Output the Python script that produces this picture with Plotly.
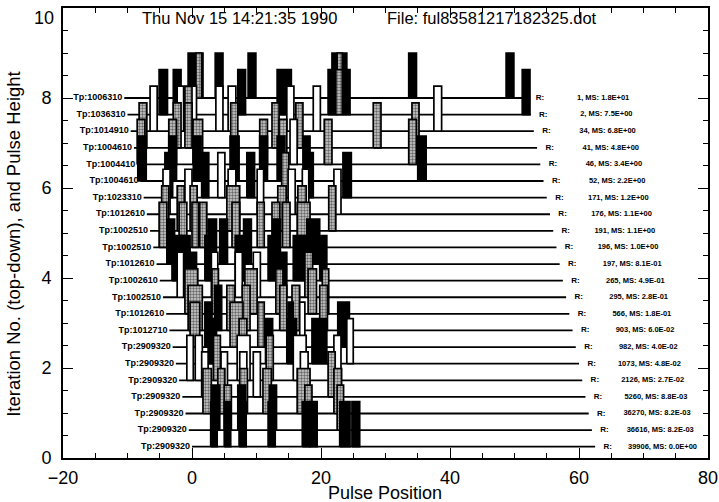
import plotly.graph_objects as go

# ---------------- data ----------------
tp_labels = ["Tp:1006310", "Tp:1036310", "Tp:1014910", "Tp:1004610", "Tp:1004410",
             "Tp:1004610", "Tp:1023310", "Tp:1012610", "Tp:1002510", "Tp:1002510",
             "Tp:1012610", "Tp:1002610", "Tp:1002510", "Tp:1012610", "Tp:1012710",
             "Tp:2909320", "Tp:2909320", "Tp:2909320", "Tp:2909320", "Tp:2909320",
             "Tp:2909320", "Tp:2909320"]
r_counts = [1, 2, 34, 41, 46, 52, 171, 176, 191, 196, 197, 265, 295, 566, 903,
            982, 1073, 2126, 5260, 36270, 36616, 39906]
ms_values = ["1.8E+01", "7.5E+00", "6.8E+00", "4.8E+00", "3.4E+00", "2.2E+00",
             "1.2E+00", "1.1E+00", "1.1E+00", "1.0E+00", "8.1E-01", "4.9E-01",
             "2.8E-01", "1.8E-01", "6.0E-02", "4.0E-02", "4.8E-02", "2.7E-02",
             "8.8E-03", "8.2E-03", "8.2E-03", "0.0E+00"]

# pulse start positions (as drawn), widths and kinds (K black, D dotted, W white), top row first
pulse_x = [
    [-0.6, 0.6, 3.6, 8.7, 21.7, 22.5, 33.6, 48.7],
    [-5.1, -2.9, 7.1, 13.2, 21.1, 22.3, 23.4, 51.2],
    [-6.5, -2.3, -1.1, -0.3, 3.7, 5.6, 14.7, 18.8, 37.5],
    [-8.2, -2.9, -1.1, 6.0, 12.4, 16.1, 28.1, 34.1],
    [-8.5, -3.6, 0.15, 10.5, 13.5, 15.2, 20.5, 33.6],
    [-8.4, -3.6, 0.2, 5.9, 10.5, 13.2, 17.2, 35.0],
    [-4.2, 1.5, 4.0, 8.5, 13.9, 17.7, 23.4],
    [-4.5, -1.1, 5.6, 10.1, 14.9, 17.1, 22.0],
    [-4.7, -2.3, -0.3, 5.4, 13.3, 16.4, 21.2],
    [-5.1, -2.0, 0.0, 1.2, 6.2, 10.1, 12.4, 14.0, 16.3],
    [-3.9, 2.5, 4.3, 8.0, 12.5, 17.8],
    [-3.1, -1.7, 2.0, 6.7, 11.8, 15.7, 19.8],
    [-2.3, -0.6, 3.0, 6.7, 9.5, 13.6, 17.5],
    [-1.1, 3.1, 8.2, 13.0, 18.0, 20.2],
    [-0.6, 3.5, 5.4, 7.8, 13.6, 15.5, 19.8],
    [-0.3, 2.0, 5.9, 10.2, 14.9, 16.7, 22.6],
    [2.5, 7.3, 11.4, 14.7, 18.6, 24.0],
    [-0.8, 0.5, 3.3, 7.0, 11.5, 15.7, 22.0],
    [1.5, 4.5, 7.4, 9.5, 16.8, 21.1],
    [1.7, 4.0, 7.4, 11.0, 16.3, 22.0],
    [3.0, 5.0, 7.1, 12.0, 17.5, 22.5],
    [2.9, 5.0, 7.3, 11.8, 17.1, 18.2, 22.9, 24.8],
]
pulse_w = [
    [2.3, 0.9, 1.2, 1.2, 2.3, 0.8, 1.2, 1.2],
    [1.3, 1.2, 1.2, 2.2, 1.2, 1.0, 1.1, 1.2],
    [1.1, 1.0, 1.1, 1.0, 1.1, 1.2, 1.1, 1.1, 1.2],
    [1.2, 1.2, 1.1, 1.1, 1.1, 1.1, 1.2, 1.1],
    [1.2, 1.2, 1.5, 1.2, 1.2, 1.1, 1.2, 1.2],
    [1.3, 1.2, 1.2, 1.4, 1.2, 1.2, 1.1, 1.3],
    [1.2, 1.1, 1.1, 1.2, 1.1, 1.1, 1.3],
    [1.1, 1.1, 1.2, 1.0, 1.1, 1.0, 1.1],
    [1.1, 1.1, 1.1, 2.0, 1.3, 1.3, 1.1],
    [1.2, 1.2, 1.0, 1.1, 1.2, 1.1, 1.2, 1.2, 2.0],
    [1.2, 1.3, 1.2, 1.2, 1.2, 2.0],
    [1.4, 1.4, 1.2, 1.5, 1.8, 2.0, 1.1],
    [1.0, 1.3, 1.0, 1.1, 1.1, 1.1, 1.2],
    [2.0, 1.0, 1.9, 1.1, 1.3, 1.0],
    [2.2, 1.1, 1.2, 1.2, 1.1, 1.2, 1.2],
    [1.5, 1.1, 2.0, 1.0, 0.8, 0.8, 1.8],
    [1.3, 1.2, 1.1, 1.5, 2.3, 1.0],
    [1.0, 1.1, 1.1, 2.0, 1.1, 2.0, 1.1],
    [1.0, 1.0, 1.1, 1.1, 1.2, 1.1],
    [1.3, 1.1, 1.2, 1.3, 2.0, 1.2],
    [1.3, 1.1, 1.2, 1.1, 1.1, 1.0],
    [1.0, 1.0, 1.1, 1.1, 1.2, 1.2, 1.6, 1.2],
]
pulse_kind = ["KDKKKDKK", "KKKKKDKK", "WWDWWWWWW", "DDDDDDDD", "DDDDDWDD",
              "KKKKKKKK", "KKWKDKK", "WWWWWWW", "DDDDDDD", "DDDDDDDDD",
              "KKKKKK", "KKKKKKK", "WKWWWKD", "DDDDDD", "DKDDDDD",
              "DKDDKWK", "KDKKKW", "WWDWDWW", "WWWWWD", "DDDDDD",
              "KDKKDD", "KKKKKKKK"]
pulse_height = 1.0
y_tick_vals = [0, 2, 4, 6, 8]
x_tick_vals = [-20, 0, 20, 40, 60, 80]

# layout of the oblique stack
ROW_TOP, ROW_STEP, ROW_SHIFT = 8.0, 0.369, 0.5
LINE_START, LINE_END = -10.5, 52.0

FONT = "Liberation Sans"
fig = go.Figure()

dotted = dict(shape=".", fgcolor="black", bgcolor="#cfcfcf", size=3, solidity=0.5)

lab_x, lab_y, r_x, val_x, val_t = [], [], [], [], []
for r in range(len(tp_labels)):
    y0 = ROW_TOP - ROW_STEP * r
    xs = LINE_START + ROW_SHIFT * r
    xe = LINE_END + ROW_SHIFT * r
    fig.add_trace(go.Scatter(x=[xs, xe], y=[y0, y0], mode="lines",
                             line=dict(color="black", width=1.8),
                             hoverinfo="skip", showlegend=False))
    for kind in "WKD":
        xx, yy = [], []
        for x, w, k in zip(pulse_x[r], pulse_w[r], pulse_kind[r]):
            if k == kind:
                xx += [x, x, x + w, x + w, x, None]
                yy += [y0, y0 + pulse_height, y0 + pulse_height, y0, y0, None]
        if not xx:
            continue
        kw = dict(x=xx, y=yy, mode="lines", fill="toself",
                  line=dict(color="black", width=1.7),
                  hoverinfo="skip", showlegend=False)
        if kind == "W":
            kw["fillcolor"] = "white"
        elif kind == "K":
            kw["fillcolor"] = "black"
        else:
            kw["fillcolor"] = "#cfcfcf"
            kw["fillpattern"] = dotted
        fig.add_trace(go.Scatter(**kw))
    lab_x.append(xs - 0.3)
    lab_y.append(y0)
    r_x.append(xe + 1.3)
    val_x.append(xe + 15.8)
    val_t.append(f"{r_counts[r]}, MS: {ms_values[r]}")

fig.add_trace(go.Scatter(x=lab_x, y=lab_y, mode="text", text=tp_labels,
                         textposition="middle left",
                         textfont=dict(family=FONT, size=9, color="black", weight="bold"),
                         hoverinfo="skip", showlegend=False))
fig.add_trace(go.Scatter(x=r_x, y=lab_y, mode="text", text=["R:"] * len(r_x),
                         textposition="middle right",
                         textfont=dict(family=FONT, size=8, color="black", weight="bold"),
                         hoverinfo="skip", showlegend=False))
fig.add_trace(go.Scatter(x=val_x, y=lab_y, mode="text", text=val_t,
                         textposition="middle left",
                         textfont=dict(family=FONT, size=7.5, color="black", weight="bold"),
                         hoverinfo="skip", showlegend=False))

fig.add_annotation(x=-8.1, y=9.78, xref="x", yref="y", text="Thu Nov 15 14:21:35 1990",
                   showarrow=False, xanchor="left", yanchor="middle",
                   font=dict(family=FONT, size=16.5, color="black"))
fig.add_annotation(x=29.9, y=9.78, xref="x", yref="y", text="File: ful83581217182325.dot",
                   showarrow=False, xanchor="left", yanchor="middle",
                   font=dict(family=FONT, size=16.5, color="black"))
# top y tick label, placed just inside the frame as in the original
fig.add_annotation(x=0, y=9.78, xref="paper", yref="y", text="10", xanchor="right",
                   yanchor="middle", xshift=-7, showarrow=False,
                   font=dict(family=FONT, size=18, color="black"))
# axis titles
fig.add_annotation(x=0.499, y=-0.077, xref="paper", yref="paper", text="Pulse Position",
                   showarrow=False, xanchor="center", yanchor="middle",
                   font=dict(family=FONT, size=18, color="black"))
fig.add_annotation(x=-0.076, y=0.476, xref="paper", yref="paper",
                   text="Iteration No. (top-down), and Pulse Height", textangle=-90,
                   showarrow=False, xanchor="center", yanchor="middle",
                   font=dict(family=FONT, size=18.5, color="black"))

axis_common = dict(showline=True, linecolor="black", linewidth=1.6, mirror="ticks",
                   ticks="inside", ticklen=10, tickwidth=1.4, tickcolor="black",
                   showgrid=False, zeroline=False, automargin=False,
                   tickfont=dict(family=FONT, size=18, color="black"))
fig.update_xaxes(range=[-20, 80], tickmode="array", tickvals=x_tick_vals,
                 minor=dict(dtick=5, tick0=0, ticks="inside", ticklen=5, tickcolor="black", tickwidth=1.3),
                 ticklabelstandoff=3, **axis_common)
fig.update_yaxes(range=[0, 10], tickmode="array", tickvals=y_tick_vals,
                 minor=dict(dtick=0.5, tick0=0, ticks="inside", ticklen=5, tickcolor="black", tickwidth=1.3),
                 ticklabelstandoff=6, **axis_common)
fig.update_layout(width=719, height=502, margin=dict(l=63, r=11, t=8, b=44),
                  plot_bgcolor="white", paper_bgcolor="white", showlegend=False)
fig.write_html("out.html", config={"displayModeBar": False},
               post_script="document.body.style.margin='0px';document.body.style.overflow='hidden';")
